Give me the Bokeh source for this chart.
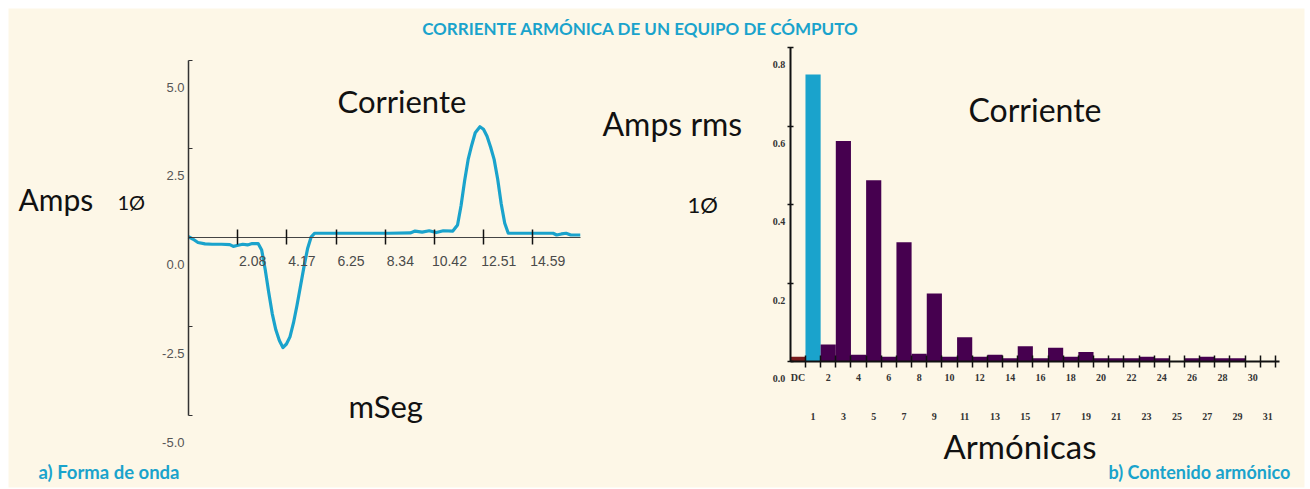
from bokeh.plotting import figure
from bokeh.models import Range1d, LinearAxis, FixedTicker, NumeralTickFormatter, Label
from bokeh.embed import file_html
from bokeh.resources import INLINE

# ---------------- data ----------------
# a) waveform: time (ms) and current (A)
t_ms = [0.00, 0.20, 0.40, 0.70, 1.00, 1.40, 1.75, 1.90, 2.10, 2.30, 2.50, 2.70, 2.95,
        3.10, 3.25, 3.40, 3.55, 3.70, 3.85, 4.00, 4.15, 4.30, 4.45, 4.60, 4.75, 4.90,
        5.05, 5.20, 5.35, 5.60, 6.50, 7.50, 8.50, 9.40, 9.60, 9.90, 10.20, 10.50, 10.80,
        11.20, 11.40, 11.55, 11.70, 11.85, 12.00, 12.15, 12.35, 12.50, 12.65, 12.80,
        12.95, 13.10, 13.25, 13.40, 13.55, 14.00, 15.00, 15.45, 15.60, 15.80, 16.00,
        16.20, 16.60]
i_amps = [0.02, -0.05, -0.14, -0.18, -0.19, -0.19, -0.20, -0.25, -0.22, -0.19, -0.21,
          -0.17, -0.17, -0.35, -0.90, -1.55, -2.15, -2.60, -2.90, -3.10, -3.00, -2.80,
          -2.40, -1.90, -1.35, -0.80, -0.30, 0.02, 0.12, 0.12, 0.12, 0.12, 0.12, 0.13,
          0.18, 0.15, 0.19, 0.14, 0.19, 0.18, 0.35, 0.90, 1.60, 2.20, 2.60, 2.95, 3.12,
          3.05, 2.85, 2.55, 2.20, 1.65, 0.95, 0.40, 0.12, 0.12, 0.12, 0.12, 0.07, 0.10,
          0.12, 0.07, 0.07]
x_ticks_ms = [2.08, 4.17, 6.25, 8.34, 10.42, 12.51, 14.59]
y_ticks_amps = [-5.0, -2.5, 0.0, 2.5, 5.0]

# b) harmonic spectrum (0 = DC)
harmonics = list(range(0, 32))
amps_rms = [0.012, 0.731, 0.043, 0.562, 0.017, 0.462, 0.012, 0.304, 0.020, 0.173,
            0.012, 0.062, 0.012, 0.017, 0.008, 0.039, 0.008, 0.035, 0.012, 0.024,
            0.008, 0.008, 0.008, 0.012, 0.008, 0.0, 0.008, 0.012, 0.008, 0.008,
            0.0, 0.0]
y_ticks_rms = [0.0, 0.2, 0.4, 0.6, 0.8]

# ---------------- styles ----------------
BG = "#fdf7e7"
CYAN = "#1aa3cc"
PURPLE = "#46004f"
DCRED = "#7b1c1c"
W, H = 1310, 489
BL, BT, BR, BB = 8, 8, 6, 2
FW, FH = W - BL - BR, H - BT - BB   # frame size

p = figure(width=W, height=H, output_backend="svg", toolbar_location=None,
           x_range=Range1d(0, FW), y_range=Range1d(FH, 0),
           x_axis_type=None, y_axis_type=None,
           min_border_left=BL, min_border_top=BT, min_border_right=BR,
           min_border_bottom=BB,
           background_fill_color=BG, border_fill_color="white", outline_line_color=None)

# left panel scales (frame px)
LX0, LPX = 180.0, 23.6
LY0, LPY = 229.0, 35.5
# right panel scales
RX0, RPX = 789.4, 15.16
RY0, RPY = 353.0, 392.5

p.extra_x_ranges = {
    "L": Range1d(-LX0 / LPX, (FW - LX0) / LPX),
    "Llab": Range1d(-(LX0 + 15) / LPX, (FW - LX0 - 15) / LPX),
    "R": Range1d(-RX0 / RPX, (FW - RX0) / RPX),
}
p.extra_y_ranges = {
    "L": Range1d(-(FH - LY0) / LPY, LY0 / LPY),
    "Llab": Range1d(-(FH - LY0 - 27) / LPY, (LY0 + 27) / LPY),
    "R": Range1d(-(FH - RY0) / RPY, RY0 / RPY),
    "Rlab": Range1d(-(FH - RY0 - 17) / RPY, (RY0 + 17) / RPY),
}

def no_labels(ax):
    ax.major_label_text_font_size = "0px"
    ax.major_label_text_color = None
    ax.minor_tick_line_color = None

def labels_only(ax):
    ax.axis_line_color = None
    ax.major_tick_line_color = None
    ax.minor_tick_line_color = None
    ax.major_tick_in = 0
    ax.major_tick_out = 0

# ---- left panel axes ----
ax = LinearAxis(x_range_name="L", y_range_name="L", fixed_location=0,
                ticker=FixedTicker(ticks=x_ticks_ms), bounds=(0, 16.6),
                axis_line_color="#444444", axis_line_width=1.2,
                major_tick_in=8, major_tick_out=7, major_tick_line_color="#111111",
                major_tick_line_width=1.5)
no_labels(ax)
p.add_layout(ax, "below")

axl = LinearAxis(x_range_name="Llab", y_range_name="L", fixed_location=0,
                 ticker=FixedTicker(ticks=x_ticks_ms),
                 formatter=NumeralTickFormatter(format="0.00"),
                 major_label_standoff=18, major_label_text_font="Liberation Sans",
                 major_label_text_font_size="14px", major_label_text_color="#4a4a4a")
labels_only(axl)
p.add_layout(axl, "below")

ay = LinearAxis(x_range_name="L", y_range_name="L", fixed_location=0,
                ticker=FixedTicker(ticks=y_ticks_amps), bounds=(-5, 5),
                axis_line_color="#333333", axis_line_width=1.5,
                major_tick_in=4, major_tick_out=0, major_tick_line_color="#333333",
                major_tick_line_width=1.2)
no_labels(ay)
p.add_layout(ay, "left")

ayl = LinearAxis(x_range_name="L", y_range_name="Llab", fixed_location=0,
                 ticker=FixedTicker(ticks=y_ticks_amps),
                 formatter=NumeralTickFormatter(format="0.0"),
                 major_label_standoff=4, major_label_text_font="Liberation Sans",
                 major_label_text_font_size="13px", major_label_text_color="#555555")
labels_only(ayl)
p.add_layout(ayl, "left")

p.line(t_ms, i_amps, x_range_name="L", y_range_name="L",
       line_color=CYAN, line_width=3.2, line_join="round")

# ---- right panel ----
colors = [DCRED if h == 0 else (CYAN if h == 1 else PURPLE) for h in harmonics]
p.vbar(x=harmonics, top=amps_rms, bottom=0, width=1.0, fill_color=colors,
       line_color=None, x_range_name="R", y_range_name="R")

bx = LinearAxis(x_range_name="R", y_range_name="R", fixed_location=0,
                ticker=FixedTicker(ticks=[h + 0.5 for h in harmonics]),
                bounds=(-0.5, 31.8), axis_line_color="#111111", axis_line_width=2,
                major_tick_in=6, major_tick_out=6, major_tick_line_color="#111111",
                major_tick_line_width=1.5)
no_labels(bx)
p.add_layout(bx, "below")

even_h = harmonics[0::2]
odd_h = harmonics[1::2]
bxe = LinearAxis(x_range_name="R", y_range_name="R", fixed_location=0,
                 ticker=FixedTicker(ticks=even_h), major_label_overrides={0: "DC"},
                 major_label_standoff=10, major_label_text_font="Liberation Serif",
                 major_label_text_font_style="bold",
                 major_label_text_font_size="10px", major_label_text_color="#333333")
labels_only(bxe)
p.add_layout(bxe, "below")

bxo = LinearAxis(x_range_name="R", y_range_name="R", fixed_location=0,
                 ticker=FixedTicker(ticks=odd_h),
                 major_label_standoff=51, major_label_text_font="Liberation Serif",
                 major_label_text_font_style="bold",
                 major_label_text_font_size="10px", major_label_text_color="#333333")
labels_only(bxo)
p.add_layout(bxo, "below")

by = LinearAxis(x_range_name="R", y_range_name="R", fixed_location=-0.5,
                ticker=FixedTicker(ticks=y_ticks_rms), bounds=(0, 0.8),
                axis_line_color="#111111", axis_line_width=2,
                major_tick_in=3, major_tick_out=3, major_tick_line_color="#111111",
                major_tick_line_width=1.5)
no_labels(by)
p.add_layout(by, "left")

byl = LinearAxis(x_range_name="R", y_range_name="Rlab", fixed_location=-0.5,
                 ticker=FixedTicker(ticks=y_ticks_rms),
                 formatter=NumeralTickFormatter(format="0.0"),
                 major_label_standoff=5, major_label_text_font="Liberation Serif",
                 major_label_text_font_style="bold",
                 major_label_text_font_size="10px", major_label_text_color="#333333")
labels_only(byl)
p.add_layout(byl, "left")

# ---- texts (positions in frame px from top-left, vertically centred) ----
def lab(x, y, text, size, color="#111111", bold=False, align="left"):
    p.add_layout(Label(x=x, y=y, text=text, text_font="Lato", text_font_size=size,
                       text_color=color, text_font_style="bold" if bold else "normal",
                       text_align=align, text_baseline="middle"))

lab(632, 20, "CORRIENTE ARMÓNICA DE UN EQUIPO DE CÓMPUTO", "17px", CYAN, True, "center")
lab(10, 190, "Amps", "30px")
lab(109, 193, "1Ø", "20px")
lab(329, 92, "Corriente", "31px")
lab(340, 397, "mSeg", "31px")
lab(30, 463, "a) Forma de onda", "18.5px", CYAN, True)

lab(594, 115, "Amps rms", "32px")
lab(679, 196, "1Ø", "22px")
lab(960, 101, "Corriente", "32px")
lab(935, 437, "Armónicas", "33px")
lab(1100, 463, "b) Contenido armónico", "18px", CYAN, True)

open("out.html", "w").write(file_html(p, INLINE))
